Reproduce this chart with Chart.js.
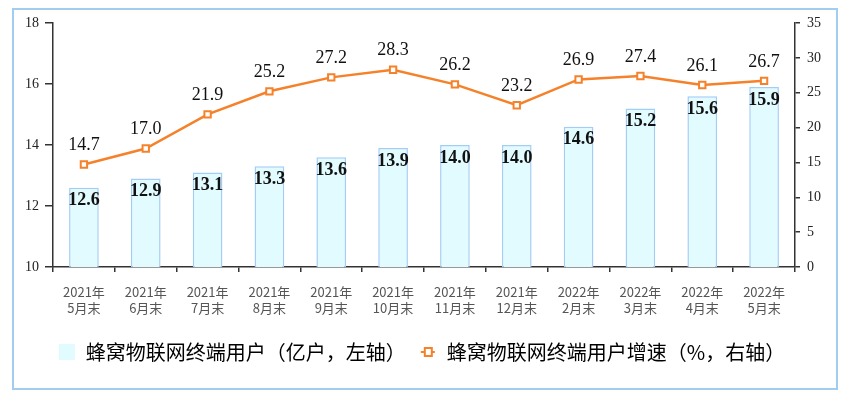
<!DOCTYPE html>
<html>
<head>
<meta charset="utf-8">
<script src="https://cdn.jsdelivr.net/npm/chart.js@4/dist/chart.umd.min.js"></script>
<style>
  html, body { margin: 0; padding: 0; background: #fff; }
  #wrap { position: relative; width: 843px; height: 398px; }
  #frame {
    position: absolute; left: 12px; top: 8px; width: 826px; height: 382px;
    box-sizing: border-box; border: 2px solid #a3cdf0;
  }
  #activity-chart { position: absolute; left: 0; top: 0; }
</style>
</head>
<body>
<div id="wrap">
  <div id="frame"></div>
  <canvas id="activity-chart" width="843" height="398"></canvas>
</div>
<script>
const months = [
    ['2021年', '5月末'], ['2021年', '6月末'], ['2021年', '7月末'], ['2021年', '8月末'],
    ['2021年', '9月末'], ['2021年', '10月末'], ['2021年', '11月末'], ['2021年', '12月末'],
    ['2022年', '2月末'], ['2022年', '3月末'], ['2022年', '4月末'], ['2022年', '5月末']
];
const users = [12.6, 12.9, 13.1, 13.3, 13.6, 13.9, 14.0, 14.0, 14.6, 15.2, 15.6, 15.9];
const growth = [14.7, 17.0, 21.9, 25.2, 27.2, 28.3, 26.2, 23.2, 26.9, 27.4, 26.1, 26.7];
const leftTicks = [10, 12, 14, 16, 18];
const rightTicks = [0, 5, 10, 15, 20, 25, 30, 35];

const orange = '#f5822a';
const barFill = '#e1fbfe';
const barLine = '#a4cdf6';

// legend markers
function makeIcon(draw) {
    const c = document.createElement('canvas');
    c.width = 18; c.height = 18;
    draw(c.getContext('2d'));
    return c;
}
const barIcon = makeIcon(ctx => {
    ctx.fillStyle = barFill;
    ctx.fillRect(1, 1, 16, 16);
});
const lineIcon = makeIcon(ctx => {
    ctx.strokeStyle = orange;
    ctx.lineWidth = 2;
    ctx.beginPath(); ctx.moveTo(2, 9); ctx.lineTo(16, 9); ctx.stroke();
    ctx.fillStyle = '#fff';
    ctx.fillRect(6, 5, 7, 8);
    ctx.lineWidth = 2;
    ctx.strokeRect(6, 5, 7, 8);
});

const valueLabels = {
    id: 'valueLabels',
    afterDatasetsDraw(chart) {
        const ctx = chart.ctx;
        ctx.save();
        ctx.textAlign = 'center';
        ctx.textBaseline = 'middle';
        ctx.fillStyle = '#111';
        chart.data.datasets.forEach((ds, i) => {
            const meta = chart.getDatasetMeta(i);
            meta.data.forEach((el, j) => {
                const txt = ds.data[j].toFixed(1);
                if (ds.type === 'bar') {
                    ctx.font = 'bold 18px "Liberation Serif"';
                    ctx.fillText(txt, el.x, el.y + 13);
                } else {
                    ctx.font = '18px "Liberation Serif"';
                    ctx.fillText(txt, el.x, el.y - 19);
                }
            });
        });
        ctx.restore();
    }
};

const axisColor = '#333';

new Chart(document.getElementById('activity-chart'), {
    data: {
        labels: months,
        datasets: [{
            type: 'line',
            label: '蜂窝物联网终端用户增速（%，右轴）',
            data: growth,
            yAxisID: 'y2',
            borderColor: orange,
            borderWidth: 2.5,
            pointStyle: 'rect',
            pointRadius: 4.5,
            pointBorderWidth: 2,
            pointBackgroundColor: '#fff',
            pointBorderColor: orange,
            order: 0
        }, {
            type: 'bar',
            label: '蜂窝物联网终端用户（亿户，左轴）',
            data: users,
            yAxisID: 'y',
            backgroundColor: barFill,
            borderColor: barLine,
            borderWidth: 1.5,
            barPercentage: 0.48,
            categoryPercentage: 1,
            order: 1
        }]
    },
    options: {
        responsive: false,
        animation: false,
        layout: { padding: { top: 23, bottom: 26, left: 0, right: 0 } },
        plugins: {
            tooltip: { enabled: false },
            legend: {
                position: 'bottom',
                labels: {
                    usePointStyle: true,
                    boxWidth: 18,
                    padding: 13,
                    color: '#333',
                    font: { family: '"Noto Sans CJK SC"', size: 20 },
                    generateLabels(chart) {
                        return [1, 0].map(i => ({
                            text: chart.data.datasets[i].label,
                            pointStyle: i === 1 ? barIcon : lineIcon,
                            fillStyle: barFill,
                            strokeStyle: 'transparent',
                            lineWidth: 0,
                            datasetIndex: i
                        }));
                    }
                }
            }
        },
        scales: {
            x: {
                grid: { offset: true, drawOnChartArea: false, tickLength: 5, color: axisColor, lineWidth: 1.5 },
                border: { color: axisColor, width: 1.5 },
                ticks: {
                    color: '#555',
                    padding: 12,
                    maxRotation: 0,
                    autoSkip: false,
                    font: { family: '"Noto Sans CJK SC"', size: 13, lineHeight: 1.25 }
                },
                afterFit(axis) { axis.height = 62; }
            },
            y: {
                position: 'left',
                min: 10,
                max: 18,
                afterBuildTicks(axis) { axis.ticks = leftTicks.map(v => ({ value: v })); },
                grid: { drawOnChartArea: false, tickLength: 8, color: axisColor, lineWidth: 1.5 },
                border: { color: axisColor, width: 1.5 },
                ticks: { color: '#222', padding: 6, font: { family: '"Liberation Serif"', size: 14 } },
                afterFit(axis) { axis.width = 53; }
            },
            y2: {
                position: 'right',
                min: 0,
                max: 35,
                afterBuildTicks(axis) { axis.ticks = rightTicks.map(v => ({ value: v })); },
                grid: { drawOnChartArea: false, tickLength: 5, color: axisColor, lineWidth: 1.5 },
                border: { color: axisColor, width: 1.5 },
                ticks: { color: '#222', padding: 7, font: { family: '"Liberation Serif"', size: 14 } },
                afterFit(axis) { axis.width = 48; }
            }
        }
    },
    plugins: [valueLabels]
});
</script>
</body>
</html>
